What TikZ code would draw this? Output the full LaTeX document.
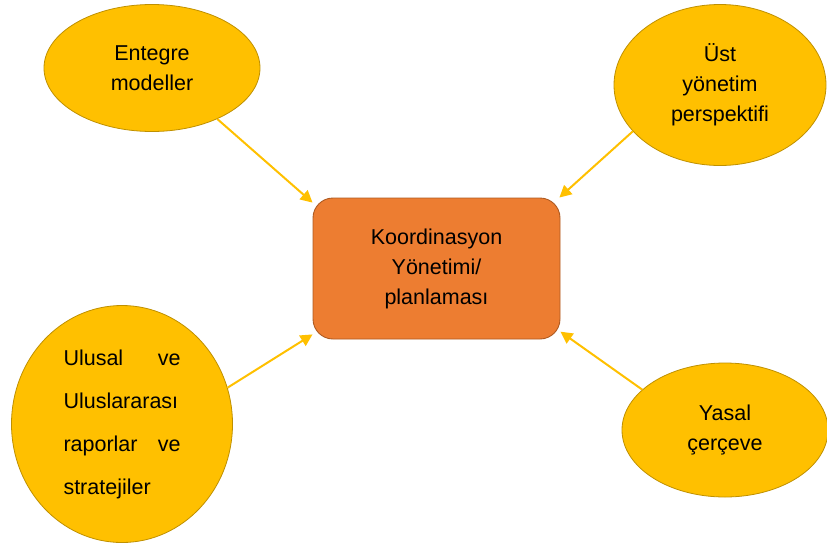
\documentclass[tikz,border=0pt]{standalone}
\usepackage{fontspec}
\setmainfont{Liberation Sans}
\usetikzlibrary{shapes.geometric,arrows.meta}
\definecolor{gold}{HTML}{FFC000}
\definecolor{goldline}{HTML}{BF9000}
\definecolor{orangebox}{HTML}{ED7D31}
\definecolor{orangeline}{HTML}{AE5A21}
\tikzset{
  bubble/.style={ellipse, draw=goldline, line width=0.8pt, fill=gold, inner sep=0pt,
    align=center, font=\fontsize{21.5}{30}\selectfont},
  centerbox/.style={rectangle, rounded corners=20pt, draw=orangeline, line width=0.9pt,
    fill=orangebox, minimum width=247pt, minimum height=141pt, align=center,
    font=\fontsize{21.5}{30}\selectfont},
  feed/.style={draw=gold, line width=2pt, -{Triangle[length=12pt,width=12pt]}}
}
\begin{document}
\begin{tikzpicture}[x=1pt,y=-1pt]
  \useasboundingbox (0,0) rectangle (827,544);
  % central coordination box
  \node[centerbox] (hub) at (436.5,268.5) {Koordinasyon\\Yönetimi/\\planlaması};
  % surrounding input bubbles
  \node[bubble, minimum width=216pt, minimum height=127pt] (ent) at (152,68) {Entegre\\modeller};
  \node[bubble, minimum width=212pt, minimum height=161pt] (ust) at (720,85) {Üst\\yönetim\\perspektifi};
  \node[bubble, minimum width=221pt, minimum height=237pt, text width=117pt, align=left,
        font=\fontsize{21.5}{43}\selectfont] (ulu) at (122,424)
        {\makebox[117pt][l]{Ulusal\hfill ve}\\Uluslararası\\\makebox[117pt][l]{raporlar\hfill ve}\\stratejiler};
  \node[bubble, minimum width=206pt, minimum height=134pt] (yas) at (725,430) {Yasal\\çerçeve};
  % arrows feeding the hub
  \draw[feed] (ent.-38.5) -- (hub.152.2);
  \draw[feed] (ust.-152.4) -- (hub.30.4);
  \draw[feed] (ulu.19.5) -- (hub.208.5);
  \draw[feed] (yas.154) -- (hub.-27.2);
\end{tikzpicture}
\end{document}
